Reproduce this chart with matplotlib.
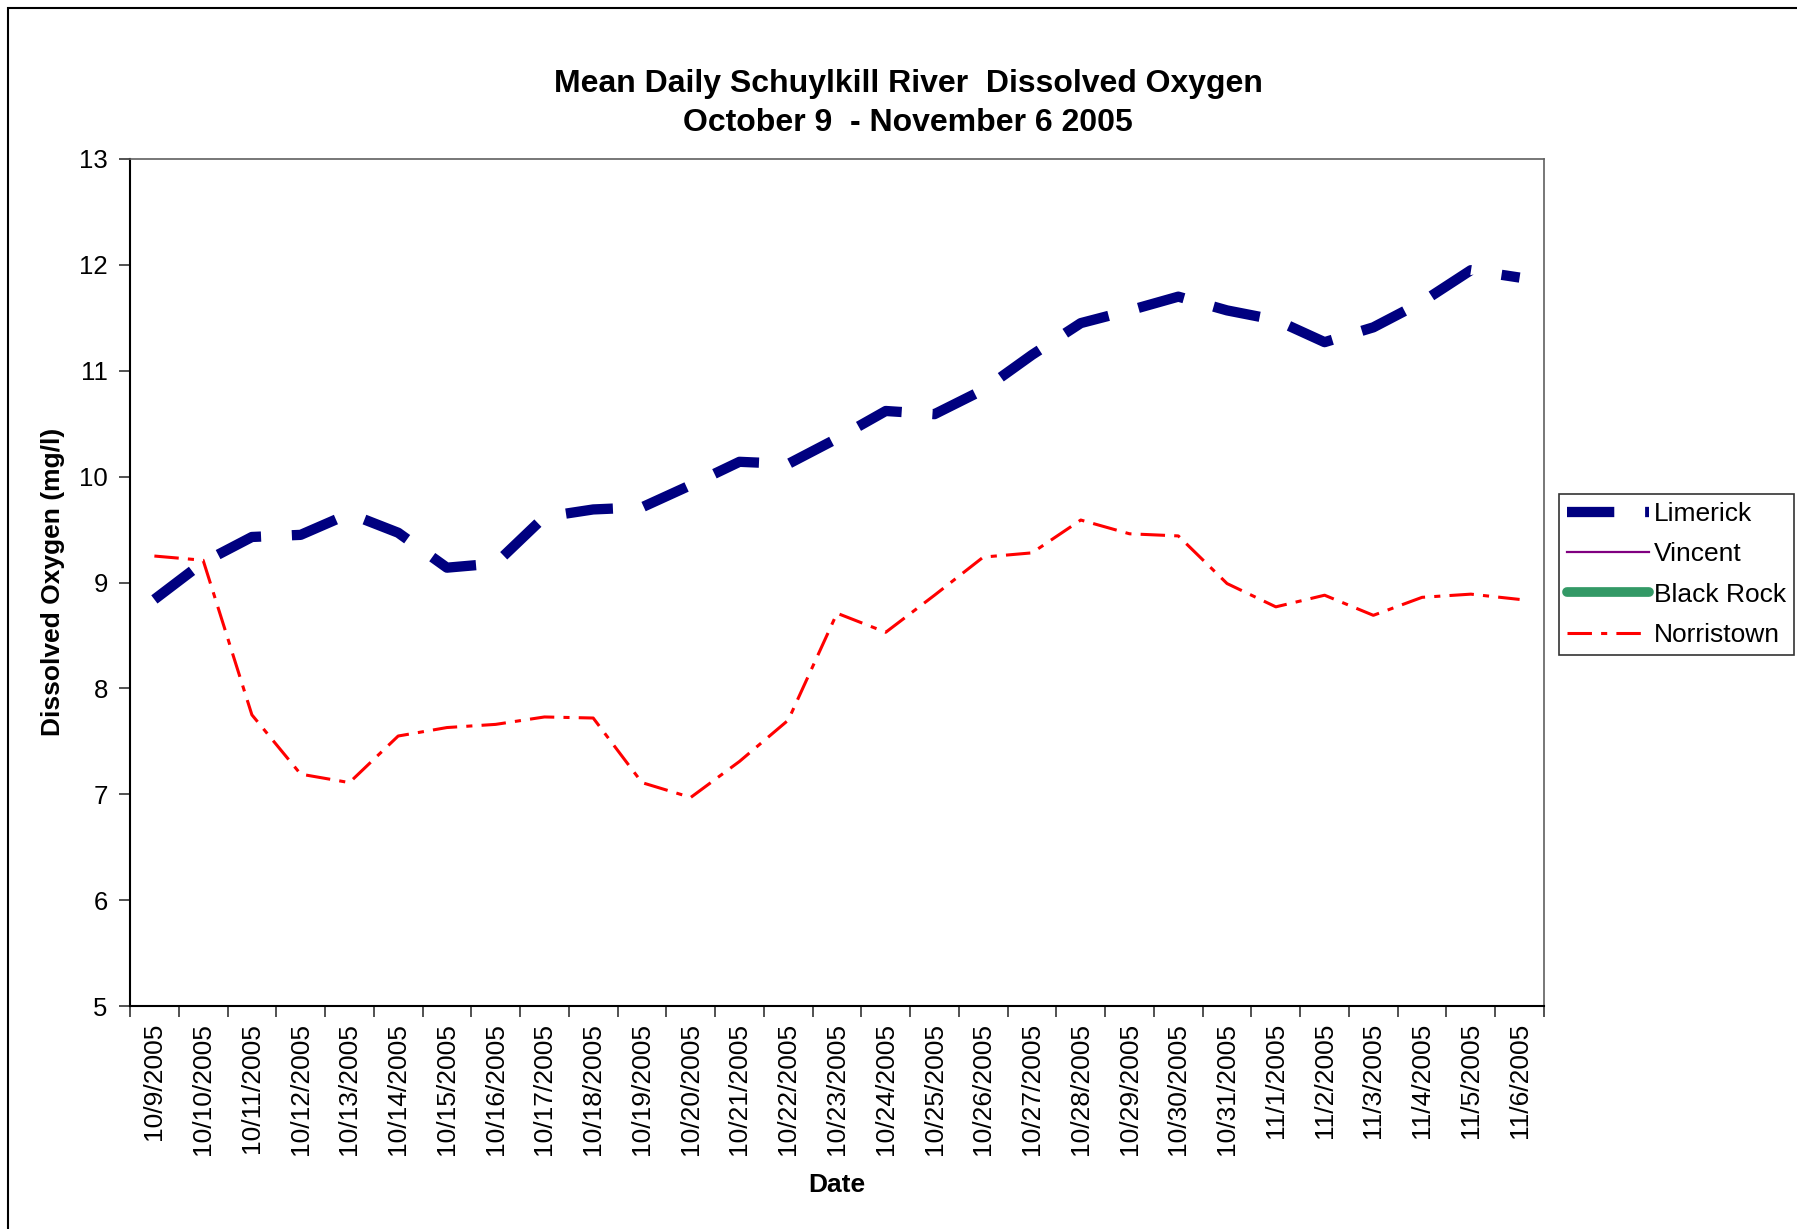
import matplotlib
matplotlib.use("Agg")
import matplotlib.pyplot as plt
from matplotlib.patches import Rectangle
import numpy as np

plt.rcParams['font.family'] = ['Liberation Sans', 'DejaVu Sans']

dates = ["10/9/2005", "10/10/2005", "10/11/2005", "10/12/2005", "10/13/2005",
         "10/14/2005", "10/15/2005", "10/16/2005", "10/17/2005", "10/18/2005",
         "10/19/2005", "10/20/2005", "10/21/2005", "10/22/2005", "10/23/2005",
         "10/24/2005", "10/25/2005", "10/26/2005", "10/27/2005", "10/28/2005",
         "10/29/2005", "10/30/2005", "10/31/2005", "11/1/2005", "11/2/2005",
         "11/3/2005", "11/4/2005", "11/5/2005", "11/6/2005"]

limerick = [8.84, 9.19, 9.43, 9.45, 9.65, 9.47, 9.14, 9.18, 9.62, 9.69,
            9.71, 9.92, 10.14, 10.12, 10.36, 10.62, 10.59, 10.82, 11.15, 11.45,
            11.57, 11.70, 11.57, 11.48, 11.27, 11.41, 11.65, 11.95, 11.88]
vincent = [np.nan] * 29
black_rock = [np.nan] * 29
norristown = [9.25, 9.21, 7.75, 7.19, 7.11, 7.55, 7.63, 7.66, 7.73, 7.72,
              7.11, 6.97, 7.31, 7.70, 8.71, 8.53, 8.88, 9.24, 9.28, 9.59,
              9.46, 9.44, 8.99, 8.77, 8.88, 8.69, 8.86, 8.89, 8.84]

W, H = 1797, 1229
fig = plt.figure(figsize=(W / 100, H / 100), dpi=100)
L, R, T, B = 130, 1544, 159, 1006
ax = fig.add_axes([L / W, 1 - B / H, (R - L) / W, (B - T) / H])

x = np.arange(len(dates)) + 0.5
ax.plot(x, limerick, color='#000080', lw=7.4, linestyle=(0, (4.6, 3.0)),
        solid_capstyle='butt', dash_capstyle='butt', label='Limerick')
ax.plot(x, vincent, color='#800080', lw=1.6, label='Vincent')
ax.plot(x, black_rock, color='#339966', lw=7.0, solid_capstyle='round', label='Black Rock')
ax.plot(x, norristown, color='#FF0000', lw=2.2, linestyle=(0, (8, 3, 2, 3)),
        dash_capstyle='butt', label='Norristown')

ax.set_xlim(0, len(dates))
ax.set_ylim(5, 13)
ax.set_yticks(range(5, 14))
ax.set_xticks(np.arange(len(dates) + 1))
ax.set_xticklabels([])
ax.set_xticks(x, minor=True)
ax.set_xticklabels(dates, minor=True, rotation=90, fontsize=19)
ax.tick_params(axis='x', which='minor', length=0, pad=12)
ax.tick_params(axis='x', which='major', length=8, width=1.2, direction='out', color='#333333')
ax.tick_params(axis='y', length=8, width=1.2, direction='out', labelsize=18.5, pad=8, color='#333333')

for s in ['left', 'bottom']:
    ax.spines[s].set_color('black')
    ax.spines[s].set_linewidth(1.5)
for s in ['top', 'right']:
    ax.spines[s].set_color('#606060')
    ax.spines[s].set_linewidth(1.2)

ax.set_xlabel('Date', fontsize=19, fontweight='bold')
ax.xaxis.label.set_va('center')
ax.xaxis.set_label_coords(0.5, -(1185 - B) / (B - T))
ax.set_ylabel('Dissolved Oxygen (mg/l)', fontsize=19, fontweight='bold')
ax.yaxis.label.set_va('center')
ax.yaxis.set_label_coords(-(L - 53) / (R - L), (B - 582) / (B - T))

fig.text(908 / W, 1 - 84 / H, 'Mean Daily Schuylkill River  Dissolved Oxygen',
         ha='center', va='center', fontsize=23, fontweight='bold')
fig.text(908 / W, 1 - 123 / H, 'October 9  - November 6 2005',
         ha='center', va='center', fontsize=23, fontweight='bold')

leg = fig.legend(loc='upper left', bbox_to_anchor=(1559 / W, 1 - 494 / H),
                 fontsize=19, frameon=True, fancybox=False, borderaxespad=0,
                 handlelength=3.1, handletextpad=0.2, labelspacing=0.62,
                 borderpad=0.3)
leg.get_frame().set_edgecolor('black')
leg.get_frame().set_linewidth(1.2)

fig.patches.append(Rectangle((8 / W, -0.1), 2.0, 1 - 8 / H + 0.1,
                             transform=fig.transFigure, fill=False,
                             edgecolor='black', lw=1.5, clip_on=False))

fig.savefig('out.png', dpi=100, facecolor='white')
